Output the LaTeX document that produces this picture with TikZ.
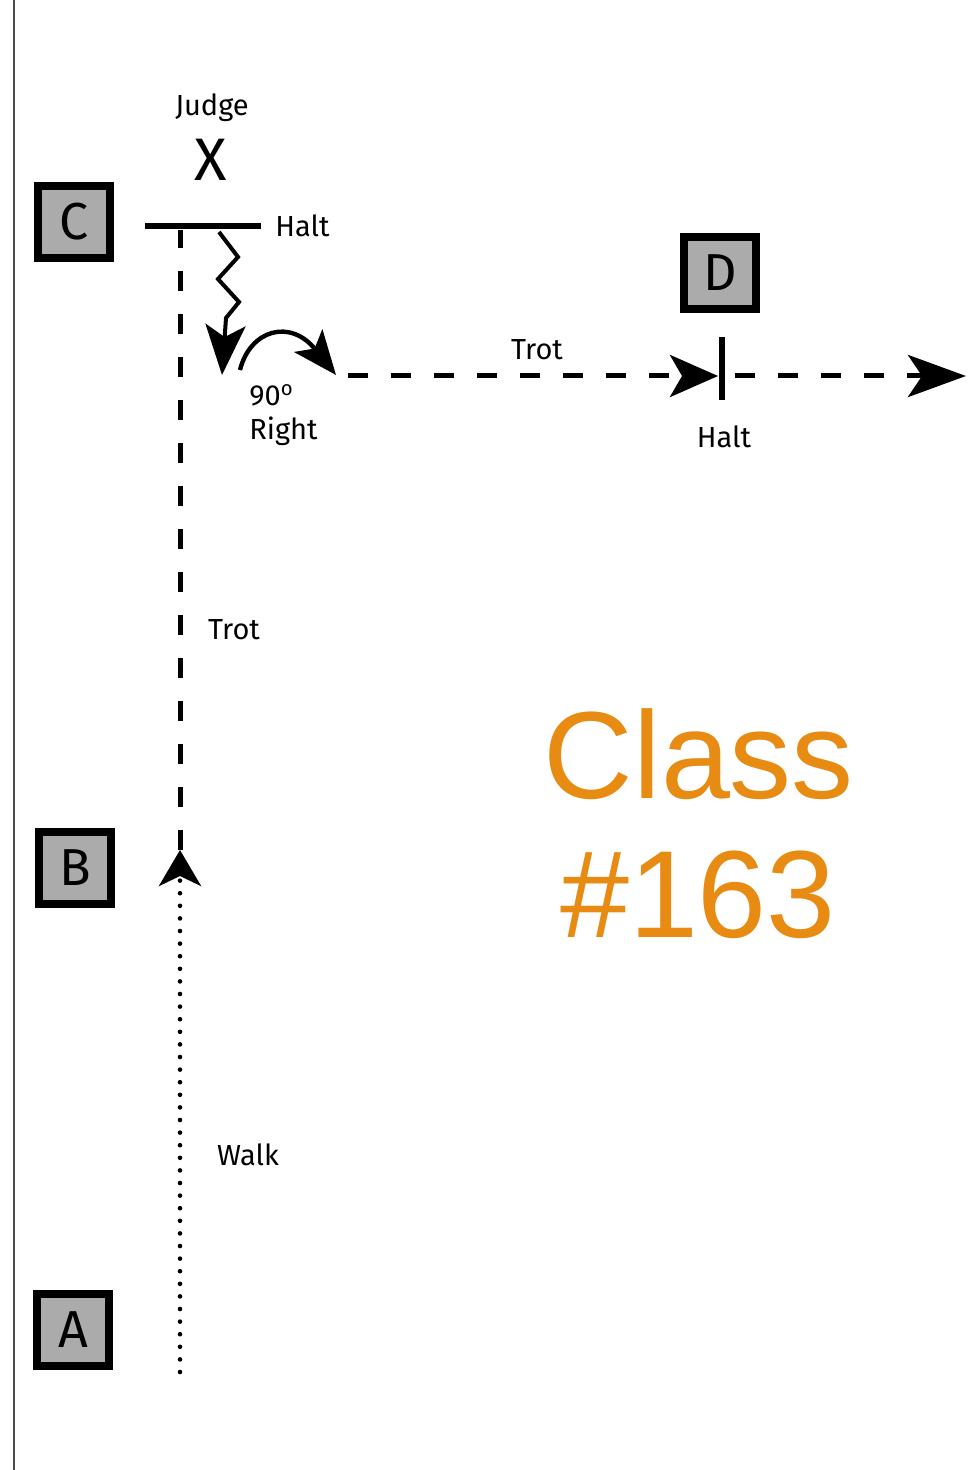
\documentclass[tikz,border=0pt]{standalone}
\usepackage{fontspec}
\setmainfont{Fira Sans}
\newfontfamily\classfont{Liberation Sans}
\usetikzlibrary{arrows.meta}
\definecolor{boxgray}{HTML}{ABABAB}
\definecolor{classorange}{HTML}{E88B12}

\begin{document}
\begin{tikzpicture}[x=0.5pt, y=-0.5pt,
  letter/.style = {draw=black, fill=boxgray, line width=4pt, minimum size=36pt, inner sep=0pt,
                   font=\fontsize{26}{26}\selectfont},
  tag/.style = {inner sep=0pt, font=\fontsize{14.5}{17}\selectfont},
  trot/.style = {line width=2.5pt, dash pattern=on 10pt off 11.5pt},
  walk/.style = {line width=2.3pt, line cap=round, dash pattern=on 0pt off 6.3pt},
  bar/.style = {line width=3pt},
  classtext/.style = {text=classorange, inner sep=0pt, anchor=base, font=\classfont\fontsize{62}{70}\selectfont},
  ]
  \fill[white] (0,0) rectangle (974,1470);
  \useasboundingbox (0,0) rectangle (974,1470);
  \draw[gray!60!black, line width=1pt] (14,0) -- (14,1470);

  \node[letter] (C) at (74,222) {C};
  \node[letter] (D) at (720,273) {D};
  \node[letter] (B) at (75,868) {B};
  \node[letter] (A) at (73,1330) {A};

  \node[tag] (judge) at (212,108) {Judge};
  \node[inner sep=0pt, font=\fontsize{30}{30}\selectfont] (X) at (211,160) {X};
  \node[tag, anchor=west] (haltC) at (275,226) {Halt};
  \node[tag] (haltD) at (724,437) {Halt};
  \node[tag] (trotH) at (537,350) {Trot};
  \node[tag] (trotV) at (234,630) {Trot};
  \node[tag] (walkV) at (248,1155) {Walk};
  \node[tag, anchor=west, align=left] (turn) at (249,415) {90\textsuperscript{o}\\Right};
  \node[classtext] (cls) at (699,798) {Class};
  \node[classtext] (num) at (698,937) {\#163};

  \coordinate (start) at (180,1372);
  \coordinate (tipB) at (180,850);
  \coordinate (turnC) at (180,230);
  \coordinate (barL) at (145,226);
  \coordinate (barR) at (261,226);
  \coordinate (zigS) at (219,232);
  \coordinate (tipZ) at (222,375);
  \coordinate (arcS) at (240,370);
  \coordinate (tipR) at (336,375);
  \coordinate (trotS) at (348,376);
  \coordinate (tipD) at (718,376);
  \coordinate (barT) at (722,337);
  \coordinate (barB) at (722,400);
  \coordinate (goS) at (735,376);
  \coordinate (tipE) at (966,376);

  \draw[walk, -{Stealth[length=18pt, width=21pt, inset=5pt]}] (start) -- (tipB);
  \draw[trot] (tipB) -- (turnC);
  \draw[bar] (barL) -- (barR);
  \draw[line width=2pt, -{Stealth[length=25pt, width=20pt, inset=6pt]}]
    (zigS) -- (238,257) -- (218,279) -- (239,302) -- (226,318) -- (tipZ);
  \draw[line width=2.2pt, -{Stealth[length=22pt, width=18pt, inset=5pt]}]
    (arcS) .. controls (250,330) and (290,318) .. (tipR);
  \draw[trot, -{Stealth[length=24pt, width=21pt, inset=6pt]}] (trotS) -- (tipD);
  \draw[bar] (barT) -- (barB);
  \draw[trot, -{Stealth[length=29pt, width=21pt, inset=7pt]}] (goS) -- (tipE);
\end{tikzpicture}
\end{document}
